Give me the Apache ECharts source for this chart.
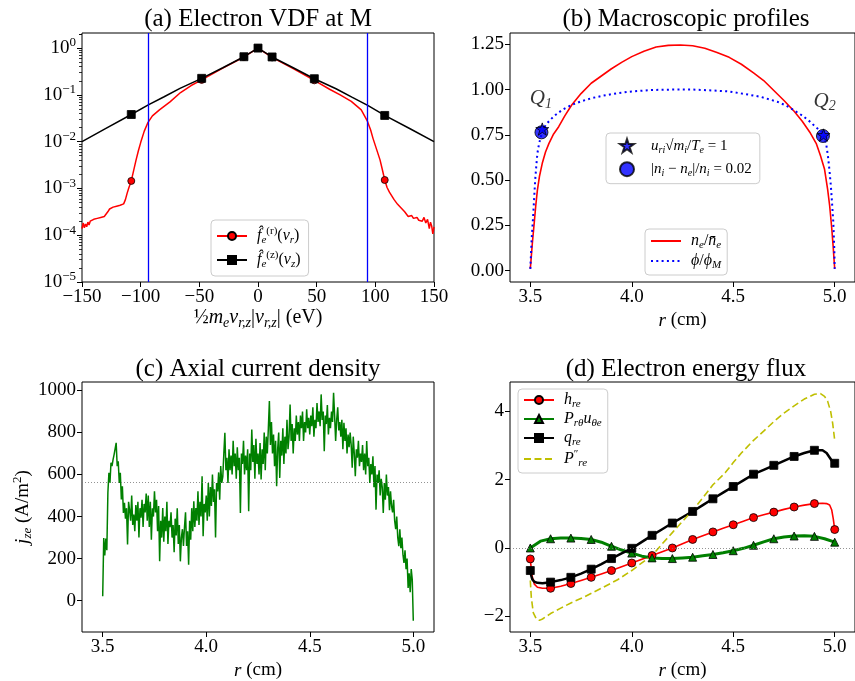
<!DOCTYPE html>
<html><head><meta charset="utf-8">
<script src="https://cdn.jsdelivr.net/npm/echarts@6/dist/echarts.min.js"></script>
<style>html,body{margin:0;padding:0;background:#fff}#c{width:855px;height:681px}</style>
</head><body><div id="c"></div>
<script>
const FONT = '"Liberation Serif","DejaVu Serif",serif';

// ---------- (a) Electron VDF at M ----------
const vdfXTicks = [-150, -100, -50, 0, 50, 100, 150];
const vdfYTicks = [1e-5, 1e-4, 1e-3, 1e-2, 1e-1, 1];
const vdfMarkerE = [-108, -48, -12, 0, 12, 48, 108];
const vdfBoundE = [-93.5, 93.5];
const fzE = [-150, -130, -108, -93.5, -80, -66.5, -48, -30, -12, 0, 12, 30, 48, 66.5, 80, 93.5, 108, 130, 150];
const fzLog = [-2.0, -1.72, -1.42, -1.215, -1.04, -0.86, -0.647, -0.42, -0.185, 0, -0.19, -0.42, -0.655, -0.87, -1.05, -1.225, -1.44, -1.73, -2.0];
const frE = [-150,-149,-148,-147,-146,-145,-144,-143,-141.5,-140,-138.5,-137,-135.5,-134,-132.5,-131,-129.5,-128,-126.5,-125,-123.5,-122,-120.5,-119,-117.5,-116,-114.5,-113,-111.5,-110,-108,-106,-104,-102,-100,-97,-94,-90,-84,-75,-66,-57,-48,-30,-12,0,12,30,48,61,70,79.5,88,93,96,98,101,104,106,108,110,112,114,116,117.5,119,120.5,122,123.5,125,126.5,128,129.5,131,132.5,134,135.5,137,138.5,140,141.5,143,144.5,146,147,148,149,150];
const frLog = [-3.86,-3.74,-3.84,-3.76,-3.82,-3.72,-3.78,-3.70,-3.74,-3.66,-3.70,-3.64,-3.66,-3.62,-3.65,-3.60,-3.56,-3.50,-3.44,-3.47,-3.40,-3.44,-3.38,-3.41,-3.36,-3.38,-3.33,-3.24,-3.10,-2.98,-2.84,-2.62,-2.40,-2.20,-2.02,-1.78,-1.60,-1.45,-1.32,-1.15,-0.95,-0.80,-0.68,-0.43,-0.19,0,-0.20,-0.44,-0.69,-0.88,-1.00,-1.14,-1.32,-1.55,-1.75,-1.93,-2.16,-2.39,-2.60,-2.82,-2.98,-3.08,-3.16,-3.24,-3.28,-3.34,-3.30,-3.42,-3.38,-3.50,-3.46,-3.60,-3.62,-3.58,-3.64,-3.66,-3.62,-3.68,-3.66,-3.70,-3.62,-3.74,-3.66,-3.86,-3.72,-3.80,-3.97,-3.82];

// ---------- (b) Macroscopic profiles ----------
const rTicks = [3.5, 4.0, 4.5, 5.0];
const profYTicks = [0, 0.25, 0.5, 0.75, 1.0, 1.25];
const neR = [3.5,3.503,3.51,3.519,3.527,3.535,3.545,3.559,3.575,3.592,3.615,3.64,3.67,3.704,3.75,3.8,3.85,3.9,3.95,4.0,4.06,4.12,4.18,4.24,4.3,4.36,4.42,4.48,4.54,4.6,4.65,4.7,4.75,4.8,4.84,4.88,4.91,4.93,4.95,4.965,4.975,4.985,4.992,4.998,5.0];
const neV = [0.01,0.05,0.15,0.26,0.36,0.445,0.52,0.593,0.655,0.703,0.755,0.795,0.855,0.915,0.978,1.035,1.075,1.115,1.15,1.182,1.212,1.235,1.244,1.246,1.242,1.228,1.205,1.178,1.14,1.092,1.05,0.995,0.94,0.88,0.825,0.76,0.70,0.635,0.56,0.45,0.36,0.24,0.14,0.04,0.01];
const phiR = [3.5,3.503,3.507,3.514,3.519,3.524,3.53,3.535,3.543,3.552,3.565,3.576,3.6,3.624,3.66,3.704,3.75,3.8,3.86,3.929,4.0,4.1,4.2,4.3,4.4,4.475,4.55,4.636,4.717,4.76,4.797,4.84,4.878,4.91,4.934,4.948,4.958,4.967,4.974,4.981,4.987,4.993,4.998,5.0];
const phiV = [0.01,0.08,0.18,0.30,0.40,0.50,0.585,0.648,0.70,0.74,0.78,0.805,0.835,0.86,0.89,0.915,0.935,0.952,0.967,0.98,0.99,0.998,1.0,1.0,0.995,0.99,0.977,0.96,0.933,0.912,0.887,0.857,0.823,0.79,0.768,0.735,0.70,0.63,0.556,0.47,0.372,0.27,0.12,0.01];
const sonicPts = [[3.559, 0.782], [4.945, 0.749]];
const quasiPts = [[3.555, 0.764], [4.942, 0.744]];
const qLabels = [[3.552, 0.95, '1'], [4.95, 0.937, '2']];

// ---------- (c) Axial current density ----------
const jzStart = 3.5, jzStep = 0.005;
const jzV = [
21,298,215,295,240,513,608,560,656,640,
671,695,687,751,640,663,560,608,481,544,
417,465,390,440,267,470,430,380,500,360,
410,330,455,380,470,300,440,395,480,350,
460,420,510,380,500,350,470,290,440,400,
520,420,480,330,450,187,380,300,441,280,
400,330,470,270,380,350,420,300,360,230,
390,310,440,270,360,187,300,340,260,350,
420,260,330,171,380,290,440,330,473,350,
440,380,520,360,470,400,592,306,460,420,
500,380,560,400,540,450,600,470,530,300,
560,520,610,480,640,560,590,700,798,620,
680,560,720,620,690,600,760,640,700,580,
730,620,680,417,700,650,760,600,690,620,
720,425,700,620,814,660,740,580,770,650,
700,600,750,576,720,650,800,620,780,700,
820,949,740,850,700,790,640,760,544,720,
800,584,760,690,820,650,780,700,860,720,
780,933,760,840,700,820,760,880,790,850,
760,880,820,900,760,850,800,910,820,870,
790,880,830,920,780,860,820,940,850,900,
830,981,860,900,711,880,840,930,790,870,
820,900,850,989,880,760,860,920,810,850,
780,860,720,846,760,820,700,790,730,800,
740,632,780,700,592,720,680,760,640,700,
660,740,620,700,600,759,640,680,560,650,
600,687,540,640,433,600,560,620,500,580,
540,417,560,480,600,500,540,430,520,450,
420,480,380,340,400,300,259,340,250,300,
220,180,240,150,200,60,130,40,150,100,
-95];
const jzYTicks = [0, 200, 400, 600, 800, 1000];
const jzRef = 565;

// ---------- (d) Electron energy flux ----------
const fluxYTicks = [-2, 0, 2, 4];
const dMarkR = [3.5,3.6,3.7,3.8,3.9,4.0,4.1,4.2,4.3,4.4,4.5,4.6,4.7,4.8,4.9,5.0];
const dR = [3.5,3.505,3.51,3.52,3.535,3.56,3.6,3.65,3.7,3.75,3.8,3.85,3.9,3.95,4.0,4.05,4.1,4.15,4.2,4.25,4.3,4.35,4.4,4.45,4.5,4.55,4.6,4.65,4.7,4.75,4.8,4.85,4.9,4.94,4.96,4.975,4.985,4.993,5.0];
const hV = [-0.32,-0.62,-0.85,-1.06,-1.15,-1.18,-1.18,-1.12,-1.04,-0.95,-0.86,-0.76,-0.66,-0.55,-0.44,-0.33,-0.22,-0.11,0.0,0.125,0.25,0.36,0.47,0.575,0.68,0.785,0.89,0.975,1.05,1.13,1.2,1.255,1.30,1.31,1.30,1.26,1.12,0.85,0.54];
const qV = [-0.66,-0.82,-0.92,-0.99,-1.02,-1.03,-1.0,-0.94,-0.86,-0.75,-0.62,-0.47,-0.31,-0.16,-0.01,0.18,0.37,0.55,0.73,0.90,1.07,1.255,1.44,1.62,1.80,1.98,2.16,2.29,2.42,2.55,2.68,2.78,2.86,2.86,2.78,2.65,2.56,2.50,2.48];
const pR = [3.5,3.55,3.6,3.65,3.7,3.75,3.8,3.85,3.9,3.95,4.0,4.05,4.1,4.15,4.2,4.25,4.3,4.35,4.4,4.45,4.5,4.55,4.6,4.65,4.7,4.75,4.8,4.85,4.9,4.95,5.0];
const pV = [0.0,0.2,0.27,0.29,0.29,0.28,0.25,0.17,0.05,-0.06,-0.15,-0.24,-0.29,-0.31,-0.31,-0.29,-0.27,-0.23,-0.19,-0.14,-0.08,-0.01,0.08,0.18,0.27,0.32,0.35,0.36,0.34,0.27,0.17];
const yR = [3.5,3.505,3.515,3.53,3.545,3.56,3.6,3.65,3.7,3.77,3.85,3.93,4.0,4.06,4.1,4.15,4.2,4.25,4.3,4.35,4.4,4.46,4.5,4.54,4.6,4.65,4.7,4.75,4.8,4.85,4.9,4.93,4.95,4.965,4.98,4.99,5.0];
const yV = [-0.95,-1.45,-1.9,-2.08,-2.12,-2.08,-1.92,-1.76,-1.61,-1.42,-1.18,-0.93,-0.66,-0.39,-0.22,0.12,0.45,0.78,1.1,1.47,1.85,2.2,2.5,2.78,3.15,3.42,3.7,3.95,4.16,4.36,4.5,4.52,4.44,4.3,4.0,3.65,3.15];

// ---------- helpers ----------
function rich(base, sub) {
  return {
    n: {fontFamily: FONT, fontSize: base, color: '#000', lineHeight: base + 4},
    i: {fontFamily: FONT, fontSize: base, fontStyle: 'italic', color: '#000', lineHeight: base + 4},
    sub: {fontFamily: FONT, fontSize: sub, fontStyle: 'italic', color: '#000', verticalAlign: 'bottom', lineHeight: sub},
    subn: {fontFamily: FONT, fontSize: sub, color: '#000', verticalAlign: 'bottom', lineHeight: sub},
    sup: {fontFamily: FONT, fontSize: sub, color: '#000', verticalAlign: 'top', lineHeight: sub}
  };
}
function minus(v) { return v < 0 ? '\u2212' + String(Math.abs(v)) : String(v); }
function markData(xs, ys, marks) {
  return xs.map((x, i) => marks.some(m => Math.abs(m - x) < 1e-9) ? [x, ys[i]] : {value: [x, ys[i]], symbol: 'none'});
}
const pairs = (xs, ys) => xs.map((x, i) => [x, ys[i]]);
const p10 = v => Math.pow(10, v);
const minorLog = [];
for (let e = -5; e <= 0; e++) for (let k = 2; k <= 9; k++) { const v = k * Math.pow(10, e); if (v < 2.1) minorLog.push(v); }
minorLog.push(2);

const tickLabel = {fontFamily: FONT, fontSize: 19, color: '#000', margin: 6};
const tickStyle = {show: true, inside: false, length: 5, lineStyle: {color: '#000', width: 1}};
const noLine = {show: false, onZero: false};
function rAxis(gi) {
  return {type: 'value', gridIndex: gi, min: 3.4, max: 5.1, position: 'bottom',
    axisLine: noLine, splitLine: {show: false},
    axisTick: Object.assign({customValues: rTicks}, tickStyle),
    axisLabel: Object.assign({customValues: rTicks, formatter: v => Number(v).toFixed(1)}, tickLabel),
    name: '{i|r} (cm)', nameLocation: 'middle', nameGap: 27,
    nameTextStyle: {fontFamily: FONT, fontSize: 19, color: '#000', rich: rich(19, 13)}};
}
const grids = [
  {left: 82, top: 33, width: 352, height: 249},
  {left: 510, top: 33, width: 353, height: 249},
  {left: 82, top: 382, width: 352, height: 250},
  {left: 510, top: 382, width: 353, height: 250}
].map(g => Object.assign({show: true, borderColor: '#000', borderWidth: 1, backgroundColor: 'transparent'}, g));

const legendNames = {
  fr: '{i|f\u0302}{sub|e}{sup|(r)}{n|(}{i|v}{sub|r}{n|)}',
  fz: '{i|f\u0302}{sub|e}{sup|(z)}{n|(}{i|v}{sub|z}{n|)}',
  sonic: '{i|u}{sub|ri}{n|\u221A}{i|m}{sub|i}{n|/}{i|T}{sub|e}{n| = 1}',
  quasi: '{n||}{i|n}{sub|i}{n| \u2212 }{i|n}{sub|e}{n||/}{i|n}{sub|i}{n| = 0.02}',
  ne: '{i|n}{sub|e}{n|/}{i|n\u0304}{sub|e}',
  phi: '{i|\u03D5}{n|/}{i|\u03D5}{sub|M}',
  hre: '{i|h}{sub|re}',
  Pu: '{i|P}{sub|r\u03B8}{i|u}{sub|\u03B8e}',
  qre: '{i|q}{sub|re}',
  Ppp: '{i|P}{sup|\u2033}{sub|re}'
};
const legendBase = {
  orient: 'vertical', selectedMode: false, formatter: n => legendNames[n],
  itemWidth: 30, itemHeight: 10, backgroundColor: 'rgba(255,255,255,0.85)',
  borderColor: '#cccccc', borderWidth: 1, borderRadius: 4
};
const TITLE_FONT = '25px ' + FONT;

const option = {
  animation: false,
  backgroundColor: '#fff',
  grid: grids,
  graphic: [
    {type: 'text', x: 258, y: 19, style: {text: '(a) Electron VDF at M', font: TITLE_FONT, fill: '#000', textAlign: 'center', textVerticalAlign: 'middle'}},
    {type: 'text', x: 686, y: 19, style: {text: '(b) Macroscopic profiles', font: TITLE_FONT, fill: '#000', textAlign: 'center', textVerticalAlign: 'middle'}},
    {type: 'text', x: 258, y: 369, style: {text: '(c) Axial current density', font: TITLE_FONT, fill: '#000', textAlign: 'center', textVerticalAlign: 'middle'}},
    {type: 'text', x: 686, y: 369, style: {text: '(d) Electron energy flux', font: TITLE_FONT, fill: '#000', textAlign: 'center', textVerticalAlign: 'middle'}}
  ],
  legend: [
    Object.assign({}, legendBase, {left: 211, top: 220, data: ['fr', 'fz'], itemGap: 4, padding: [6, 8, 6, 5],
      textStyle: {padding: [0, 0, 0, 5], rich: rich(16, 11)}}),
    Object.assign({}, legendBase, {left: 606, top: 133, data: ['sonic', 'quasi'], itemWidth: 14, itemHeight: 14, itemGap: 6, padding: [5, 8, 5, 13],
      textStyle: {padding: [0, 0, 0, 12], rich: rich(15, 10)}}),
    Object.assign({}, legendBase, {left: 645, top: 229, data: [{name: 'ne', itemStyle: {opacity: 0}}, {name: 'phi', itemStyle: {opacity: 0}}], itemGap: 2, padding: [4, 6, 4, 5],
      textStyle: {padding: [0, 0, 0, 5], rich: rich(16, 11)}}),
    Object.assign({}, legendBase, {left: 518, top: 389, data: ['hre', 'Pu', 'qre', {name: 'Ppp', itemStyle: {opacity: 0}}], itemGap: 1, padding: [3, 6, 4, 5],
      textStyle: {padding: [0, 0, 0, 5], rich: rich(16, 11)}})
  ],
  xAxis: [
    {type: 'value', gridIndex: 0, min: -150, max: 150, interval: 50, position: 'bottom',
      axisLine: noLine, splitLine: {show: false}, axisTick: tickStyle,
      axisLabel: Object.assign({formatter: v => minus(v), showMaxLabel: true}, tickLabel),
      name: '{n|\u00BD}{i|m}{sub|e}{i|v}{sub|r,z}{n||}{i|v}{sub|r,z}{n|| (eV)}', nameLocation: 'middle', nameGap: 24,
      nameTextStyle: {fontFamily: FONT, fontSize: 20, color: '#000', rich: rich(20, 14)}},
    rAxis(1), rAxis(2), rAxis(3)
  ],
  yAxis: [
    {type: 'log', logBase: 10, gridIndex: 0, min: 1e-5, max: 2.1, position: 'left',
      axisLine: noLine, splitLine: {show: false}, minorTick: {show: false},
      axisTick: Object.assign({customValues: vdfYTicks}, tickStyle),
      axisLabel: Object.assign({customValues: vdfYTicks, rich: rich(19, 13), formatter: v => {
        const e = v <= 0 ? Math.round(v) : Math.round(Math.log10(v));
        return '{n|10}{sup|' + (e === 0 ? '0' : '\u2212' + (-e)) + '}';
      }}, tickLabel)},
    {type: 'log', logBase: 10, gridIndex: 0, min: 1e-5, max: 2.1, position: 'left', offset: 0,
      axisLine: noLine, splitLine: {show: false},
      axisTick: {show: true, customValues: minorLog, length: 3, lineStyle: {color: '#000', width: 0.8}},
      axisLabel: {show: false}},
    {type: 'value', gridIndex: 1, min: -0.0625, max: 1.3125, position: 'left',
      axisLine: noLine, splitLine: {show: false},
      axisTick: Object.assign({customValues: profYTicks}, tickStyle),
      axisLabel: Object.assign({customValues: profYTicks, formatter: v => Number(v).toFixed(2)}, tickLabel)},
    {type: 'value', gridIndex: 2, min: -149, max: 1040, position: 'left',
      axisLine: noLine, splitLine: {show: false},
      axisTick: Object.assign({customValues: jzYTicks}, tickStyle),
      axisLabel: Object.assign({customValues: jzYTicks, formatter: v => minus(v)}, tickLabel),
      name: '{i|j}{sub|ze}{n| (A/m}{sup|2}{n|)}', nameLocation: 'middle', nameGap: 47,
      nameTextStyle: {fontFamily: FONT, fontSize: 19, color: '#000', rich: rich(19, 13)}},
    {type: 'value', gridIndex: 3, min: -2.46, max: 4.86, position: 'left',
      axisLine: noLine, splitLine: {show: false},
      axisTick: Object.assign({customValues: fluxYTicks}, tickStyle),
      axisLabel: Object.assign({customValues: fluxYTicks, formatter: v => minus(v)}, tickLabel)}
  ],
  series: [
    {name: 'fr', type: 'line', xAxisIndex: 0, yAxisIndex: 0, data: markData(frE, frLog.map(p10), vdfMarkerE),
      symbol: 'circle', symbolSize: 7, showAllSymbol: true, emphasis: {disabled: true},
      lineStyle: {color: '#ff0000', width: 1.5}, itemStyle: {color: '#ff0000', borderColor: '#000', borderWidth: 0.8}},
    {name: 'fz', type: 'line', xAxisIndex: 0, yAxisIndex: 0, data: markData(fzE, fzLog.map(p10), vdfMarkerE),
      symbol: 'rect', symbolSize: 8, showAllSymbol: true, emphasis: {disabled: true},
      lineStyle: {color: '#000', width: 1.5}, itemStyle: {color: '#000', borderColor: '#000', borderWidth: 0.8},
      markLine: {silent: true, symbol: 'none', label: {show: false}, lineStyle: {color: '#0000ff', width: 1.3, type: 'solid'},
        data: vdfBoundE.map(e => ({xAxis: e}))}},
    {name: 'ne', type: 'line', xAxisIndex: 1, yAxisIndex: 2, data: pairs(neR, neV), symbol: 'none', smooth: false,
      lineStyle: {color: '#ff0000', width: 1.6}, itemStyle: {color: '#ff0000'}},
    {name: 'phi', type: 'line', xAxisIndex: 1, yAxisIndex: 2, data: pairs(phiR, phiV), symbol: 'none',
      lineStyle: {color: '#0000ff', width: 2, type: [2, 3.3]}, itemStyle: {color: '#0000ff'}},
    {name: 'quasi', type: 'scatter', xAxisIndex: 1, yAxisIndex: 2, data: quasiPts, symbol: 'circle', symbolSize: 13,
      itemStyle: {color: '#0000ff', borderColor: '#000', borderWidth: 1}, z: 3},
    {name: 'sonic', type: 'scatter', xAxisIndex: 1, yAxisIndex: 2, data: sonicPts, symbolKeepAspect: true,
      symbol: 'path://M0,-1L0.2245,-0.309L0.951,-0.309L0.363,0.118L0.588,0.809L0,0.382L-0.588,0.809L-0.363,0.118L-0.951,-0.309L-0.2245,-0.309Z',
      symbolSize: 13, itemStyle: {color: '#0000ff', borderColor: '#000', borderWidth: 1}, z: 4},
    {name: 'qlab', type: 'scatter', xAxisIndex: 1, yAxisIndex: 2, data: qLabels, symbolSize: 1, itemStyle: {color: 'transparent'},
      label: {show: true, position: 'inside', formatter: p => '{i|Q}{sub|' + p.data[2] + '}', rich: rich(21, 14)}},
    {name: 'jz', type: 'line', xAxisIndex: 2, yAxisIndex: 3, data: jzV.map((v, i) => [jzStart + i * jzStep, v]), symbol: 'none',
      lineStyle: {color: '#008000', width: 1.5}, itemStyle: {color: '#008000'},
      markLine: {silent: true, symbol: 'none', label: {show: false}, lineStyle: {color: '#777', width: 0.8, type: [1, 2]}, data: [{yAxis: jzRef}]}},
    {name: 'hre', type: 'line', xAxisIndex: 3, yAxisIndex: 4, data: markData(dR, hV, dMarkR), symbol: 'circle', symbolSize: 8, showAllSymbol: true,
      lineStyle: {color: '#ff0000', width: 1.6}, itemStyle: {color: '#ff0000', borderColor: '#000', borderWidth: 0.8},
      markLine: {silent: true, symbol: 'none', label: {show: false}, lineStyle: {color: '#777', width: 0.8, type: [1, 2]}, data: [{yAxis: 0}]}},
    {name: 'Pu', type: 'line', xAxisIndex: 3, yAxisIndex: 4, data: markData(pR, pV, dMarkR), symbol: 'triangle', symbolSize: 8, showAllSymbol: true,
      lineStyle: {color: '#008000', width: 3}, itemStyle: {color: '#008000', borderColor: '#000', borderWidth: 0.8}},
    {name: 'qre', type: 'line', xAxisIndex: 3, yAxisIndex: 4, data: markData(dR, qV, dMarkR), symbol: 'rect', symbolSize: 8, showAllSymbol: true,
      lineStyle: {color: '#000', width: 2.5}, itemStyle: {color: '#000', borderColor: '#000', borderWidth: 0.8}},
    {name: 'Ppp', type: 'line', xAxisIndex: 3, yAxisIndex: 4, data: pairs(yR, yV), symbol: 'none',
      lineStyle: {color: '#bfbf00', width: 1.6, type: [7, 3.5]}, itemStyle: {color: '#bfbf00'}}
  ]
};
const chart = echarts.init(document.getElementById('c'), null, {renderer: 'canvas'});
chart.setOption(option);
</script></body></html>
